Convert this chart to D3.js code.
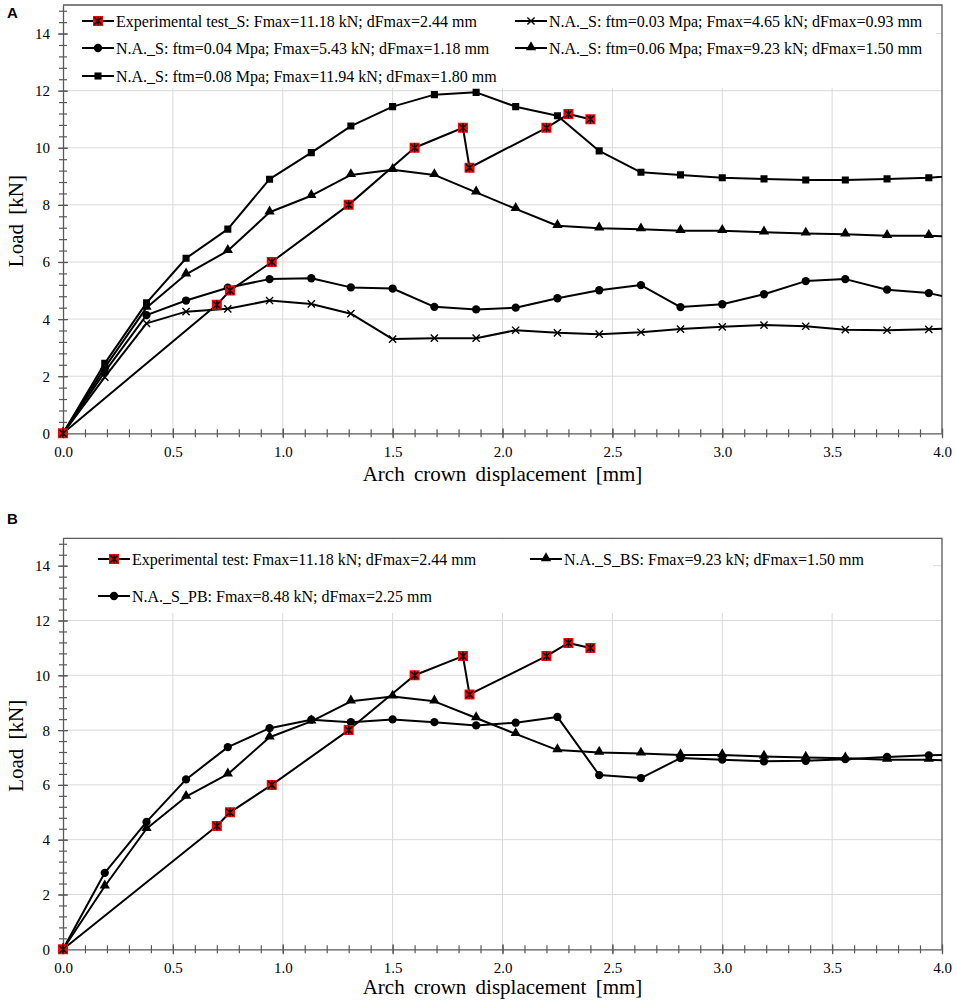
<!DOCTYPE html>
<html>
<head>
<meta charset="utf-8">
<script src="https://cdn.jsdelivr.net/npm/d3@7"></script>
<style>
  body { margin: 0; background: #fff; }
  svg { display: block; }
  text { font-family: "Liberation Serif", "Times New Roman", serif; fill: #000; }
</style>
</head>
<body>
<svg width="957" height="1007"></svg>
<script>
(function () {

  // displacement steps used by the numerical analyses [mm] (last one lies past the axis end)
  const dispNum = [0, 0.19, 0.38, 0.56, 0.75, 0.94, 1.13, 1.31, 1.50, 1.69, 1.88, 2.06,
    2.25, 2.44, 2.63, 2.81, 3.00, 3.19, 3.38, 3.56, 3.75, 3.94, 4.13];

  // experimental test
  const dispExp = [0, 0.70, 0.76, 0.95, 1.30, 1.60, 1.82, 1.85, 2.20, 2.30, 2.40];
  const loadExp = [0, 4.50, 5.00, 6.00, 8.00, 10.00, 10.70, 9.30, 10.70, 11.18, 11.00];

  // numerical analyses, load [kN]
  const loadFtm003 = [0, 1.97, 3.85, 4.26, 4.36, 4.65, 4.53, 4.19, 3.30, 3.33, 3.33, 3.61,
    3.52, 3.47, 3.54, 3.65, 3.73, 3.79, 3.75, 3.63, 3.61, 3.64, 3.70];
  const loadFtm004 = [0, 2.15, 4.14, 4.65, 5.10, 5.40, 5.43, 5.11, 5.07, 4.43, 4.34, 4.40,
    4.73, 5.01, 5.19, 4.42, 4.52, 4.87, 5.33, 5.40, 5.03, 4.91, 4.58];
  const loadFtm006 = [0, 2.30, 4.40, 5.57, 6.39, 7.74, 8.32, 9.05, 9.23, 9.05, 8.44, 7.86,
    7.27, 7.18, 7.15, 7.09, 7.09, 7.04, 7.00, 6.97, 6.92, 6.92, 6.86];
  const loadFtm008 = [0, 2.45, 4.57, 6.13, 7.15, 8.90, 9.83, 10.76, 11.44, 11.86, 11.94, 11.44,
    11.12, 9.89, 9.14, 9.05, 8.95, 8.91, 8.87, 8.87, 8.91, 8.95, 9.07];
  const loadPB = [0, 2.79, 4.65, 6.20, 7.38, 8.07, 8.38, 8.29, 8.39, 8.29, 8.17, 8.27,
    8.48, 6.36, 6.25, 6.98, 6.92, 6.86, 6.88, 6.94, 7.02, 7.08, 7.11];

  // axis ticks
  const xMajor = [0, 0.5, 1.0, 1.5, 2.0, 2.5, 3.0, 3.5, 4.0];
  const yMajor = [0, 2, 4, 6, 8, 10, 12, 14];
  const xMinor = d3.range(0, 4.001, 0.1);
  const yMinor = d3.range(0, 14.9, 0.4);

  const AXIS = "#595959";
  const GRID = "#d9d9d9";

  const svg = d3.select("svg");
  svg.append("rect").attr("width", 957).attr("height", 1007).attr("fill", "#fff");

  // marker shapes
  function starPath(r) {
    const p = d3.path();
    p.moveTo(-r, -r); p.lineTo(r, r);
    p.moveTo(-r, r); p.lineTo(r, -r);
    p.moveTo(0, -r * 1.25); p.lineTo(0, r * 1.25);
    return p.toString();
  }
  function timesPath(r) {
    const p = d3.path();
    p.moveTo(-r, -r); p.lineTo(r, r);
    p.moveTo(-r, r); p.lineTo(r, -r);
    return p.toString();
  }

  function drawMarker(sel, kind) {
    if (kind === "exp") {
      sel.append("path").attr("d", d3.symbol(d3.symbolSquare, 100)()).attr("fill", "#ff0000");
      sel.append("path").attr("d", starPath(3.6)).attr("stroke", "#000").attr("stroke-width", 1.4).attr("fill", "none");
    } else if (kind === "times") {
      sel.append("path").attr("d", timesPath(3.6)).attr("stroke", "#000").attr("stroke-width", 1.4).attr("fill", "none");
    } else if (kind === "square") {
      sel.append("path").attr("d", d3.symbol(d3.symbolSquare, 50)()).attr("fill", "#000");
    } else if (kind === "circle") {
      sel.append("path").attr("d", d3.symbol(d3.symbolCircle, 54)()).attr("fill", "#000");
    } else if (kind === "triangle") {
      sel.append("path").attr("d", d3.symbol(d3.symbolTriangle, 46)()).attr("fill", "#000")
        .attr("transform", "translate(0,-0.8)");
    }
  }

  function drawPanel(cfg) {
    const x = d3.scaleLinear().domain([0, 4]).range([63, 942]);
    const y = d3.scaleLinear().domain([0, 15]).range([cfg.bottom, cfg.top]);
    const g = svg.append("g");

    g.append("clipPath").attr("id", cfg.id + "-clip")
      .append("rect")
      .attr("x", x(0) - 8).attr("y", cfg.top)
      .attr("width", x(4) - x(0) + 8).attr("height", cfg.bottom - cfg.top + 8);

    // gridlines
    g.append("g").selectAll("line").data(xMajor.filter(v => v > 0 && v < 4)).join("line")
      .attr("x1", d => x(d)).attr("x2", d => x(d))
      .attr("y1", cfg.top).attr("y2", cfg.bottom)
      .attr("stroke", GRID).attr("stroke-width", 1);
    g.append("g").selectAll("line").data(yMajor.filter(v => v > 0)).join("line")
      .attr("x1", x(0)).attr("x2", x(4))
      .attr("y1", d => y(d)).attr("y2", d => y(d))
      .attr("stroke", GRID).attr("stroke-width", 1);

    // legend background
    g.append("rect")
      .attr("x", x(0) + 1).attr("y", cfg.top + 1)
      .attr("width", cfg.legendRight - x(0) - 1).attr("height", cfg.legendBottom - cfg.top - 1)
      .attr("fill", "#fff");

    // frame
    g.append("path")
      .attr("d", `M${x(0)},${cfg.top}H${x(4)}V${cfg.bottom}`)
      .attr("fill", "none").attr("stroke", AXIS).attr("stroke-width", 1.3);

    // x axis
    const xMin = g.append("g").attr("transform", `translate(0,${cfg.bottom})`)
      .call(d3.axisBottom(x).tickValues(xMinor).tickSize(4).tickSizeOuter(0).tickFormat(""));
    xMin.selectAll(".tick line").attr("y1", -4).attr("stroke", AXIS).attr("stroke-width", 1.2);
    xMin.select(".domain").attr("stroke", AXIS).attr("stroke-width", 1.3);

    const xMaj = g.append("g").attr("transform", `translate(0,${cfg.bottom})`)
      .call(d3.axisBottom(x).tickValues(xMajor).tickSize(5).tickSizeOuter(0).tickFormat(d3.format(".1f")));
    xMaj.select(".domain").remove();
    xMaj.selectAll(".tick line").attr("y1", -5).attr("stroke", AXIS).attr("stroke-width", 1.2);
    xMaj.selectAll(".tick text").attr("y", cfg.xLabelOffset).attr("dy", 0)
      .style("font-family", "'Liberation Serif', serif").style("font-size", "15px").attr("fill", "#000");

    // y axis
    const yMin = g.append("g").attr("transform", `translate(${x(0)},0)`)
      .call(d3.axisLeft(y).tickValues(yMinor).tickSize(4).tickSizeOuter(0).tickFormat(""));
    yMin.selectAll(".tick line").attr("x1", 4).attr("stroke", AXIS).attr("stroke-width", 1.2);
    yMin.select(".domain").attr("stroke", AXIS).attr("stroke-width", 1.3);

    const yMaj = g.append("g").attr("transform", `translate(${x(0)},0)`)
      .call(d3.axisLeft(y).tickValues(yMajor).tickSize(5).tickSizeOuter(0));
    yMaj.select(".domain").remove();
    yMaj.selectAll(".tick line").attr("x1", 5).attr("stroke", AXIS).attr("stroke-width", 1.2);
    yMaj.selectAll(".tick text").attr("x", -13).attr("dy", "0.33em")
      .style("font-family", "'Liberation Serif', serif").style("font-size", "15px").attr("fill", "#000");

    // axis titles
    g.append("text")
      .attr("x", (x(0) + x(4)) / 2).attr("y", cfg.xTitleY)
      .attr("text-anchor", "middle")
      .style("font-size", "21px").style("word-spacing", "4px")
      .text("Arch crown displacement [mm]");
    g.append("text")
      .attr("transform", `translate(23,${(cfg.top + cfg.bottom) / 2 + 2}) rotate(-90)`)
      .attr("text-anchor", "middle")
      .style("font-size", "21px").style("word-spacing", "4px")
      .text("Load [kN]");

    // panel letter
    g.append("text")
      .attr("x", 7).attr("y", cfg.letterY)
      .style("font-family", "'Liberation Sans', Arial, sans-serif")
      .style("font-weight", "bold").style("font-size", "15px")
      .text(cfg.letter);

    // series
    const line = d3.line().x(d => x(d[0])).y(d => y(d[1]));
    const plot = g.append("g").attr("clip-path", `url(#${cfg.id}-clip)`);
    cfg.series.forEach(s => {
      const pts = s.xs.map((v, i) => [v, s.ys[i]]);
      plot.append("path").datum(pts)
        .attr("d", line).attr("fill", "none")
        .attr("stroke", "#000").attr("stroke-width", 2).attr("stroke-linejoin", "round");
      plot.append("g").selectAll("g").data(pts.filter(p => p[0] <= 4)).join("g")
        .attr("transform", d => `translate(${x(d[0])},${y(d[1])})`)
        .each(function () { drawMarker(d3.select(this), s.marker); });
    });

    // legend
    const lg = g.append("g");
    cfg.series.forEach(s => {
      const item = lg.append("g").attr("transform", `translate(${s.lx},${s.ly})`);
      item.append("line").attr("x1", 0).attr("x2", 32).attr("y1", 0).attr("y2", 0)
        .attr("stroke", "#000").attr("stroke-width", 2);
      drawMarker(item.append("g").attr("transform", "translate(16,0)"), s.marker);
      item.append("text").attr("x", 34).attr("y", 5.5)
        .style("font-size", "16px")
        .text(s.label);
    });
  }

  drawPanel({
    id: "a", letter: "A", letterY: 18,
    top: 5, bottom: 433.3, legendRight: 936, legendBottom: 88,
    xLabelOffset: 23.5, xTitleY: 480.5,
    series: [
      { xs: dispNum, ys: loadFtm003, marker: "times", lx: 515, ly: 21,
        label: "N.A._S: ftm=0.03 Mpa; Fmax=4.65 kN; dFmax=0.93 mm" },
      { xs: dispNum, ys: loadFtm004, marker: "circle", lx: 82, ly: 48,
        label: "N.A._S: ftm=0.04 Mpa; Fmax=5.43 kN; dFmax=1.18 mm" },
      { xs: dispNum, ys: loadFtm006, marker: "triangle", lx: 515, ly: 48,
        label: "N.A._S: ftm=0.06 Mpa; Fmax=9.23 kN; dFmax=1.50 mm" },
      { xs: dispNum, ys: loadFtm008, marker: "square", lx: 82, ly: 76,
        label: "N.A._S: ftm=0.08 Mpa; Fmax=11.94 kN; dFmax=1.80 mm" },
      { xs: dispExp, ys: loadExp, marker: "exp", lx: 82, ly: 21,
        label: "Experimental test_S: Fmax=11.18 kN; dFmax=2.44 mm" }
    ]
  });

  drawPanel({
    id: "b", letter: "B", letterY: 524,
    top: 538.3, bottom: 949.3, legendRight: 933, legendBottom: 613,
    xLabelOffset: 24, xTitleY: 994,
    series: [
      { xs: dispNum, ys: loadFtm006, marker: "triangle", lx: 530, ly: 559,
        label: "N.A._S_BS: Fmax=9.23 kN; dFmax=1.50 mm" },
      { xs: dispNum, ys: loadPB, marker: "circle", lx: 98, ly: 596,
        label: "N.A._S_PB: Fmax=8.48 kN; dFmax=2.25 mm" },
      { xs: dispExp, ys: loadExp, marker: "exp", lx: 98, ly: 559,
        label: "Experimental test: Fmax=11.18 kN; dFmax=2.44 mm" }
    ]
  });

})();
</script>
</body>
</html>
